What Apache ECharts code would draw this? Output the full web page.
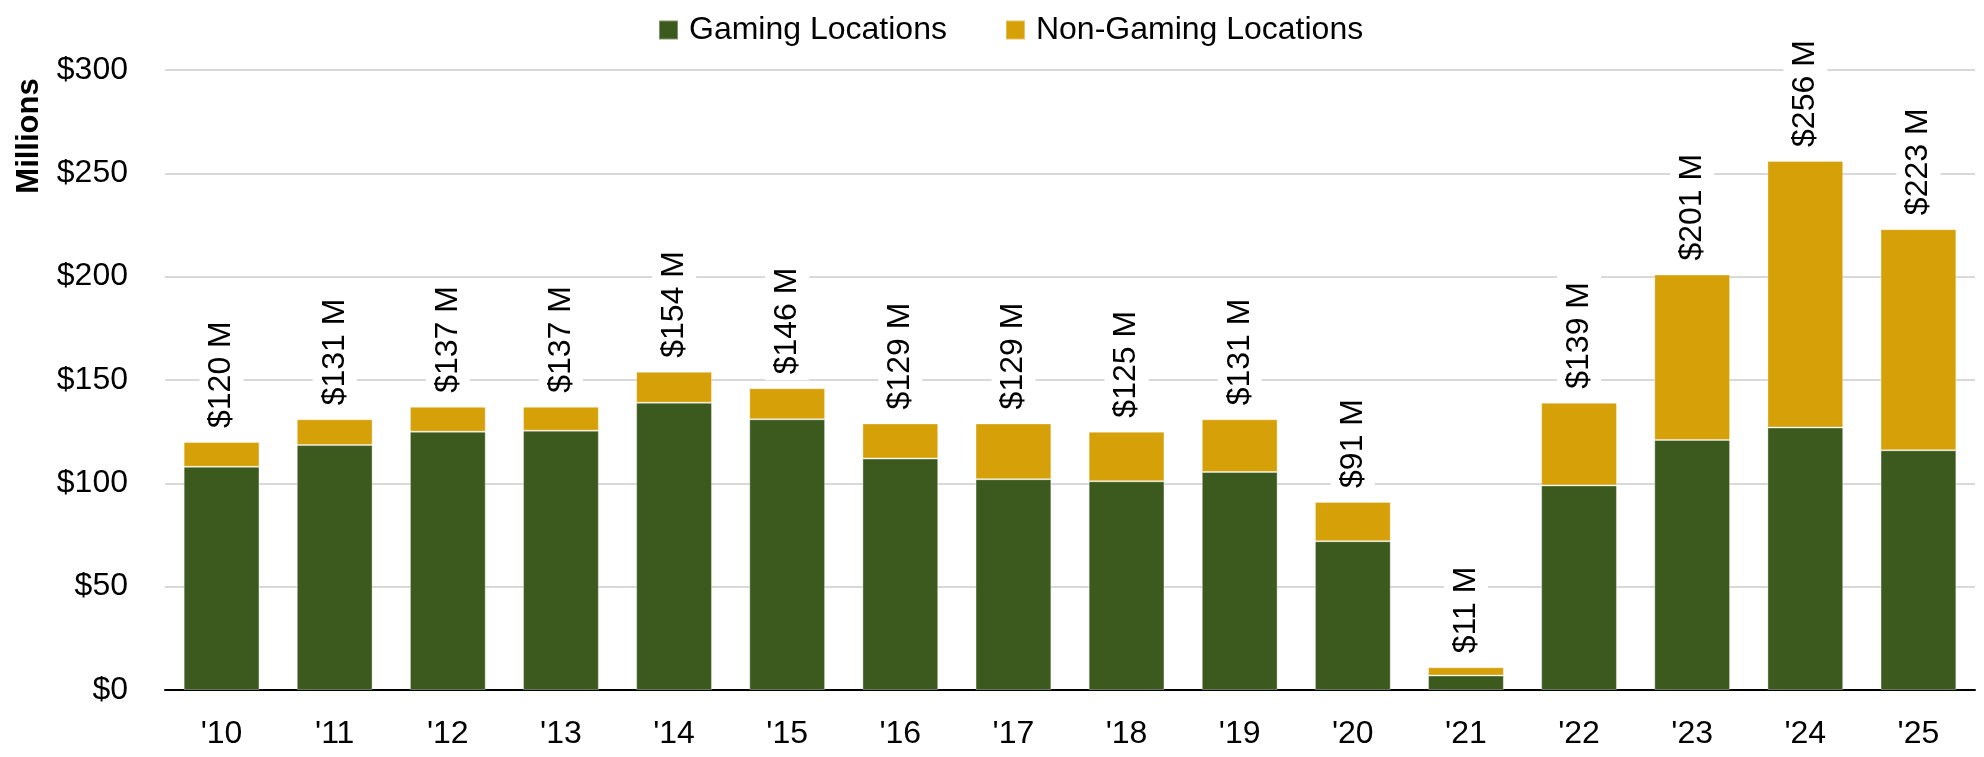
<!DOCTYPE html>
<html>
<head>
    <meta charset="utf-8">
    <title>Gaming vs Non-Gaming Locations</title>
    <script src="https://cdn.jsdelivr.net/npm/echarts@6/dist/echarts.min.js"></script>
    <style>
        html, body { margin: 0; padding: 0; background: #fff; }
    </style>
</head>
<body>
    <div id="main" style="width:1984px; height:757px"></div>
    <script type="text/javascript">
        var years = ["'10", "'11", "'12", "'13", "'14", "'15", "'16", "'17", "'18", "'19", "'20", "'21", "'22", "'23", "'24", "'25"];
        var gaming = [108, 118.5, 125, 125.5, 139, 131, 112, 102, 101, 105.5, 72, 7, 99, 121, 127, 116];
        var nonGaming = [12, 12.5, 12, 11.5, 15, 15, 17, 27, 24, 25.5, 19, 4, 40, 80, 129, 107];

        var FONT = "'Liberation Sans Narrow', 'Liberation Sans', Arial, sans-serif";
        var myChart = echarts.init(document.getElementById('main'));

        var option = {
            animation: false,
            textStyle: { fontFamily: FONT },
            legend: {
                top: 9,
                left: 653,
                itemWidth: 19,
                itemHeight: 19,
                itemGap: 58,
                icon: 'rect',
                textStyle: { fontSize: 32, color: '#000', fontFamily: FONT, padding: [0, 0, 0, 6] },
                data: ['Gaming Locations', 'Non-Gaming Locations']
            },
            graphic: [{
                type: 'text',
                x: 29,
                y: 136,
                rotation: Math.PI / 2,
                style: {
                    text: 'Millions',
                    fontFamily: FONT,
                    fontWeight: 'bold',
                    fontSize: 31,
                    fill: '#000',
                    align: 'center',
                    verticalAlign: 'middle'
                }
            }],
            grid: {
                left: 165,
                right: 9,
                top: 70,
                bottom: 67
            },
            xAxis: {
                type: 'category',
                data: years,
                axisTick: { show: false },
                axisLine: { lineStyle: { color: '#000', width: 2 } },
                axisLabel: { fontSize: 32, color: '#000', margin: 28, fontFamily: FONT }
            },
            yAxis: {
                type: 'value',
                min: 0,
                max: 300,
                interval: 50,
                axisLabel: {
                    fontSize: 32,
                    color: '#000',
                    margin: 37,
                    fontFamily: FONT,
                    formatter: function (v) { return '$' + v; }
                },
                splitLine: { lineStyle: { color: '#d9d9d9', width: 2 } }
            },
            series: [
                {
                    name: 'Gaming Locations',
                    type: 'bar',
                    stack: 'total',
                    barCategoryGap: '33%',
                    data: gaming,
                    itemStyle: { color: '#3d5a1e', borderColor: 'rgba(255,255,255,0.35)', borderWidth: 1 }
                },
                {
                    name: 'Non-Gaming Locations',
                    type: 'bar',
                    stack: 'total',
                    barCategoryGap: '33%',
                    data: nonGaming,
                    itemStyle: { color: '#d6a008', borderColor: 'rgba(255,255,255,0.35)', borderWidth: 1 },
                    label: {
                        show: true,
                        position: 'top',
                        rotate: 90,
                        align: 'left',
                        verticalAlign: 'middle',
                        distance: 8,
                        fontSize: 32,
                        color: '#000',
                        fontFamily: FONT,
                        backgroundColor: '#fff',
                        padding: [6, 6],
                        formatter: function (p) {
                            var total = gaming[p.dataIndex] + nonGaming[p.dataIndex];
                            return '$' + Math.round(total) + ' M';
                        }
                    }
                }
            ]
        };

        myChart.setOption(option);
    </script>
</body>
</html>
